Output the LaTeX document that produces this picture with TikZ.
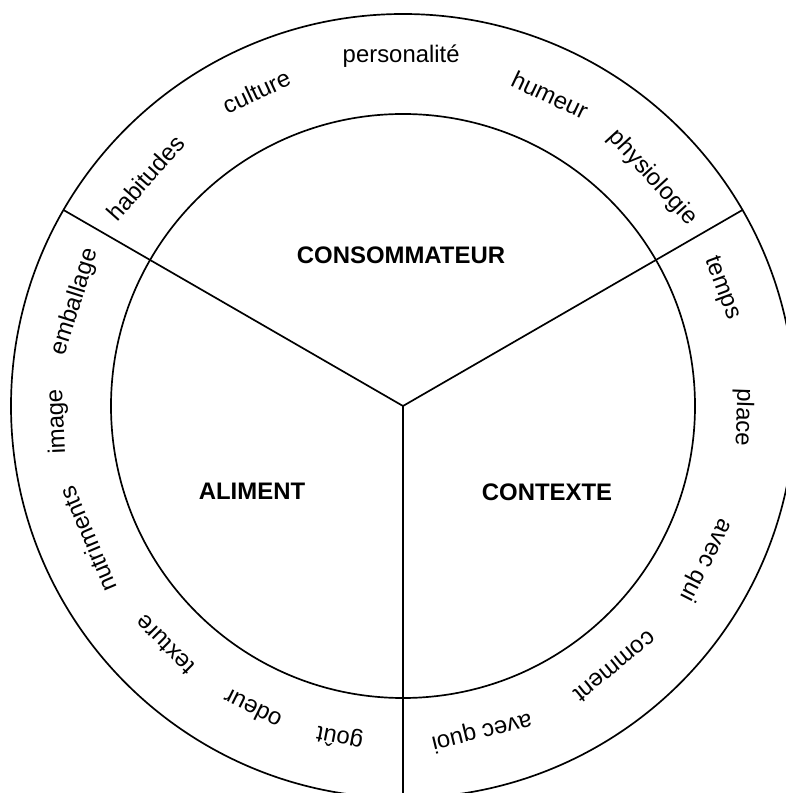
\documentclass[tikz,border=0pt]{standalone}
\usepackage{fontspec}
\setmainfont{Liberation Sans}
\usepackage{tikz}
\usetikzlibrary{positioning}
\tikzstyle{ringlabel} = [inner sep=0pt,font=\fontsize{17}{20}\selectfont]
\tikzstyle{sectorlabel} = [inner sep=0pt,font=\fontsize{17}{20}\selectfont\bfseries]

\begin{document}
\begin{tikzpicture}[x=0.025cm,y=0.025cm,line width=1.2pt]
			\useasboundingbox (-403, -387) rectangle (383, 406);
			\clip (-403, -387) rectangle (383, 406);
			\coordinate (centre) at (0, 0);
			\draw (centre) circle (292);
			\draw (centre) circle (392);
			\coordinate (outerleft) at (150:392);
			\coordinate (outerright) at (30:392);
			\coordinate (outerbottom) at (270:392);
			\draw (centre) -- (outerleft);
			\draw (centre) -- (outerright);
			\draw (centre) -- (outerbottom);
			\node [sectorlabel] (consommateur) at (-2, 151) {CONSOMMATEUR};
			\node [sectorlabel] (aliment) at (-151, -85) {ALIMENT};
			\node [sectorlabel] (contexte) at (144, -86) {CONTEXTE};
			% consommateur
			\node [ringlabel, rotate=48.5] (habitudes) at (138.5:344) {habitudes};
			\node [ringlabel, rotate=25] (culture) at (115:347) {culture};
			\node [ringlabel, rotate=0.3] (personalite) at (90.3:350) {personalité};
			\node [ringlabel, rotate=-25.3] (humeur) at (64.7:344) {humeur};
			\node [ringlabel, rotate=-47.5] (physiologie) at (42.5:338) {physiologie};
			% aliment
			\node [ringlabel, rotate=72.4] (emballage) at (162.4:344) {emballage};
			\node [ringlabel, rotate=92.6] (image) at (182.6:346) {image};
			\node [ringlabel, rotate=113] (nutriments) at (203:342) {nutriments};
			\node [ringlabel, rotate=135.1] (texture) at (225.1:337) {texture};
			\node [ringlabel, rotate=153.6] (odeur) at (243.6:339) {odeur};
			\node [ringlabel, rotate=169.2] (gout) at (259.2:337) {goût};
			% contexte
			\node [ringlabel, rotate=-69.7] (temps) at (20.3:340) {temps};
			\node [ringlabel, rotate=-91.9] (place) at (-1.9:340) {place};
			\node [ringlabel, rotate=-117] (avecqui) at (-27:340) {avec qui};
			\node [ringlabel, rotate=-140.9] (comment) at (-50.9:336) {comment};
			\node [ringlabel, rotate=-166.4] (avecquoi) at (-76.4:335) {avec quoi};
		\end{tikzpicture}
\end{document}
